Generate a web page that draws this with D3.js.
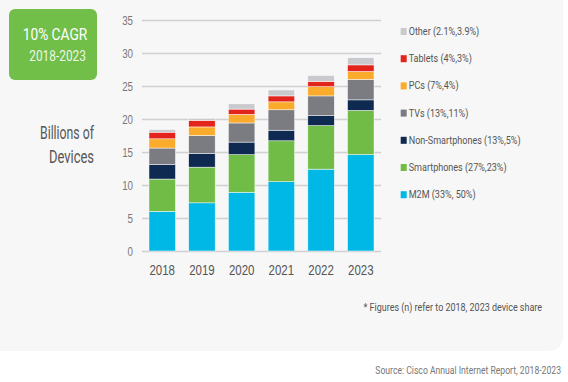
<!DOCTYPE html>
<html><head><meta charset="utf-8">
<script src="https://cdn.jsdelivr.net/npm/d3@7"></script>
<style>
html,body{margin:0;padding:0;background:#fff;}
svg{display:block;font-family:"Roboto",sans-serif;}
</style></head>
<body><svg id="c" width="568" height="382"></svg>
<script>
const years = ["2018","2019","2020","2021","2022","2023"];
const seriesNames = ["M2M","Smartphones","Non-Smartphones","TVs","PCs","Tablets","Other"];
const legendLabels = ["M2M (33%, 50%)","Smartphones (27%,23%)","Non-Smartphones (13%,5%)","TVs (13%,11%)","PCs (7%,4%)","Tablets (4%,3%)","Other (2.1%,3.9%)"];
const colors = ["#00b8e6","#70bc46","#0e2a50","#7b7c82","#fbab2c","#e3241c","#c9cacd"];
const m2m        = [6.0, 7.3, 8.9, 10.5, 12.4, 14.6];
const smartphones= [4.9, 5.4, 5.7, 6.2, 6.6, 6.7];
const nonSmart   = [2.2, 2.1, 1.9, 1.6, 1.5, 1.6];
const tvs        = [2.5, 2.7, 2.9, 3.1, 3.0, 3.1];
const pcs        = [1.4, 1.3, 1.3, 1.2, 1.4, 1.2];
const tablets    = [1.0, 1.0, 0.8, 0.9, 0.8, 1.0];
const other      = [0.4, 0.3, 0.8, 0.9, 0.9, 1.1];
const yTicks = [0,5,10,15,20,25,30,35];

const seriesValues = [m2m, smartphones, nonSmart, tvs, pcs, tablets, other];
const table = years.map((y,i)=>{const o={year:y}; seriesNames.forEach((s,j)=>o[s]=seriesValues[j][i]); return o;});
const stacked = d3.stack().keys(seriesNames)(table);

// condense text horizontally (reference uses a condensed typeface)
function condense(sel, k){
  sel.each(function(){ const w=this.getComputedTextLength(); d3.select(this).attr("textLength",w*k).attr("lengthAdjust","spacingAndGlyphs"); });
}
// place a horizontally squeezed text via transform
function squeezed(parent, x, y, k, anchor, size, fill, txt){
  return parent.append("text").attr("transform",`translate(${x},${y}) scale(${k},1)`)
    .attr("text-anchor",anchor).attr("font-size",size).attr("fill",fill).text(txt);
}

const svg = d3.select("#c");
// panel
svg.append("rect").attr("x",-20).attr("y",-20).attr("width",583).attr("height",371).attr("rx",14).attr("fill","#f7f7f7");

// CAGR box
svg.append("rect").attr("x",9).attr("y",9).attr("width",88).attr("height",71).attr("rx",6).attr("fill","#71be49");
svg.append("text").attr("x",55).attr("y",39.5).attr("text-anchor","middle").attr("fill","#fff").attr("font-size",17)
  .attr("textLength",64.6).attr("lengthAdjust","spacingAndGlyphs").text("10% CAGR");
svg.append("text").attr("x",57.6).attr("y",60.5).attr("text-anchor","middle").attr("fill","#eef6e8").attr("font-size",14)
  .attr("textLength",56.7).attr("lengthAdjust","spacingAndGlyphs").text("2018-2023");

// y title
svg.append("text").attr("x",94).attr("y",139).attr("text-anchor","end").attr("fill","#555").attr("font-size",19)
  .attr("textLength",54).attr("lengthAdjust","spacingAndGlyphs").text("Billions of");
svg.append("text").attr("x",94).attr("y",162.5).attr("text-anchor","end").attr("fill","#555").attr("font-size",19)
  .attr("textLength",45).attr("lengthAdjust","spacingAndGlyphs").text("Devices");

const x = d3.scaleBand().domain(years).range([142,381]).paddingInner(0.333).paddingOuter(0.176);
const y = d3.scaleLinear().domain([0,35]).range([251,20]);

// grid + y axis
const yAxis = d3.axisLeft(y).tickValues(yTicks).tickSize(0).tickPadding(9);
const gy = svg.append("g").attr("transform","translate(142,0)").call(yAxis);
gy.select(".domain").remove();
gy.selectAll("text").attr("font-size",12.5).attr("fill","#777").attr("font-family","inherit").attr("dy","0.36em");
condense(gy.selectAll("text"),0.78);
const grid = d3.axisLeft(y).tickValues(yTicks).tickSize(-239).tickFormat("");
const gg = svg.append("g").attr("transform","translate(142,0)").call(grid);
gg.select(".domain").remove();
gg.selectAll("line").attr("stroke","#cfcfcf").attr("stroke-width",1.6);

// bars
svg.append("g").selectAll("g").data(stacked).join("g").attr("fill",(d,i)=>colors[i])
  .selectAll("rect").data(d=>d).join("rect")
  .attr("x",d=>x(d.data.year)).attr("width",x.bandwidth())
  .attr("y",d=>y(d[1])).attr("height",d=>y(d[0])-y(d[1]))
  .attr("stroke","#ffffff").attr("stroke-width",0.6).attr("stroke-opacity",0.8);

// x axis
const xAxis = d3.axisBottom(x).tickSize(0).tickPadding(0);
const gx = svg.append("g").attr("transform","translate(0,251)").call(xAxis);
gx.select(".domain").remove();
gx.selectAll("text").attr("font-size",15.5).attr("fill","#555").attr("font-family","inherit").attr("y",24).attr("dy",0);
condense(gx.selectAll("text"),0.74);

// legend
const legendOrder = d3.range(seriesNames.length).reverse();
const lg = svg.append("g").selectAll("g").data(legendOrder).join("g")
  .attr("transform",(d,i)=>`translate(400.7,${31+i*27.2})`);
lg.append("rect").attr("x",0).attr("y",-3).attr("width",6).attr("height",7).attr("fill",d=>colors[d]);
const lt = lg.append("text").attr("x",8).attr("y",4).attr("font-size",10.5).attr("fill","#555").text(d=>legendLabels[d]);
condense(lt,0.86);

// footnotes
squeezed(svg, 542, 311, 0.78, "end", 11.5, "#555", "* Figures (n) refer to 2018, 2023 device share");
squeezed(svg, 561, 374, 0.75, "end", 11.5, "#777", "Source: Cisco Annual Internet Report, 2018-2023");
</script></body></html>
